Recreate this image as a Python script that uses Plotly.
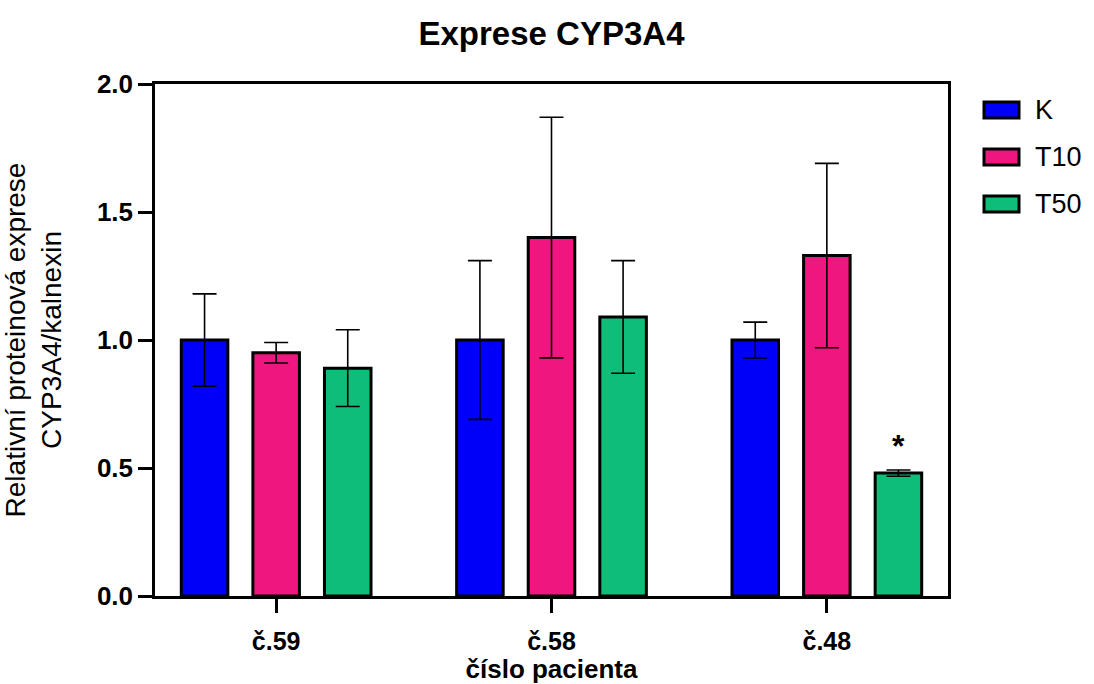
import plotly.graph_objects as go

# --- data -------------------------------------------------------------
patients = ["č.59", "č.58", "č.48"]
groups = ["K", "T10", "T50"]
k_values = [1.00, 1.00, 1.00]
k_errors = [0.18, 0.31, 0.07]
t10_values = [0.95, 1.40, 1.33]
t10_errors = [0.04, 0.47, 0.36]
t50_values = [0.89, 1.09, 0.48]
t50_errors = [0.15, 0.22, 0.012]
significant = ["", "", "*"]  # T50 vs K
y_ticks = [0.0, 0.5, 1.0, 1.5, 2.0]

colors = {"K": "#0000FA", "T10": "#F0167F", "T50": "#0EBE78"}
values = {"K": k_values, "T10": t10_values, "T50": t50_values}
errors = {"K": k_errors, "T10": t10_errors, "T50": t50_errors}

FONT = "Arial, Liberation Sans, Helvetica, sans-serif"
W, H = 1094, 684
ML, MR, MT, MB = 155, 146, 84, 88
BARGAP = 0.22

fig = go.Figure()
for g in groups:
    fig.add_trace(go.Bar(
        name=g, x=patients, y=values[g],
        marker=dict(color=colors[g], line=dict(color="black", width=3)),
        error_y=dict(type="data", array=errors[g], visible=True,
                     color="black", thickness=1.6, width=12),
        showlegend=False,
    ))

# significance marks above the T50 bars
slot = (1 - BARGAP) / len(groups)
for i, s in enumerate(significant):
    if s:
        fig.add_annotation(
            x=i + slot, y=t50_values[i] + t50_errors[i] + 0.1,
            xref="x", yref="y", text="<b>" + s + "</b>", showarrow=False,
            font=dict(family=FONT, size=32, color="black"),
            yanchor="middle", xanchor="center", yshift=-2,
        )

# custom legend: wide outlined swatches with labels
pw, ph = W - ML - MR, H - MT - MB
def px_x(p):
    return (p - ML) / pw
def px_y(p):
    return (H - MB - p) / ph

for j, g in enumerate(groups):
    cy = 110 + 47 * j
    fig.add_shape(type="rect", xref="paper", yref="paper",
                  x0=px_x(984), x1=px_x(1019), y0=px_y(cy - 8), y1=px_y(cy + 8),
                  fillcolor=colors[g], line=dict(color="black", width=3))
    fig.add_annotation(x=px_x(1033), y=px_y(cy), xref="paper", yref="paper",
                       text=g, showarrow=False, xanchor="left", yanchor="middle",
                       font=dict(family=FONT, size=27, color="black"))

fig.update_layout(
    width=W, height=H,
    margin=dict(l=ML, r=MR, t=MT, b=MB, autoexpand=False),
    paper_bgcolor="white", plot_bgcolor="white",
    barmode="group", bargap=BARGAP, bargroupgap=0.35,
    title=dict(text="<b>Exprese CYP3A4</b>", x=0.5, xref="paper", xanchor="center",
               y=1 - 33 / H, yanchor="middle",
               font=dict(family=FONT, size=33, color="black")),
    font=dict(family=FONT, color="black"),
)

fig.update_xaxes(
    range=[-0.44, 2.44], showline=True, linecolor="black", linewidth=2.5,
    mirror=True, ticks="outside", ticklen=14, tickwidth=2.5, tickcolor="black",
    ticklabelstandoff=7,
    tickfont=dict(family=FONT, size=25, color="black", weight="bold"),
    title=dict(text="<b>číslo pacienta</b>", font=dict(family=FONT, size=26, color="black"),
               standoff=16),
    showgrid=False, zeroline=False,
)
fig.update_yaxes(
    range=[0, 2], tickvals=y_ticks, tickformat=".1f",
    showline=True, linecolor="black", linewidth=2.5, mirror=True,
    ticks="outside", ticklen=14, tickwidth=2.5, tickcolor="black",
    ticklabelstandoff=0,
    tickfont=dict(family=FONT, size=26, color="black", weight="bold"),
    title=dict(text="Relativní proteinová exprese<br>CYP3A4/kalnexin",
               font=dict(family=FONT, size=28, color="black"), standoff=31),
    showgrid=False, zeroline=False,
)

fig.write_html("out.html")
